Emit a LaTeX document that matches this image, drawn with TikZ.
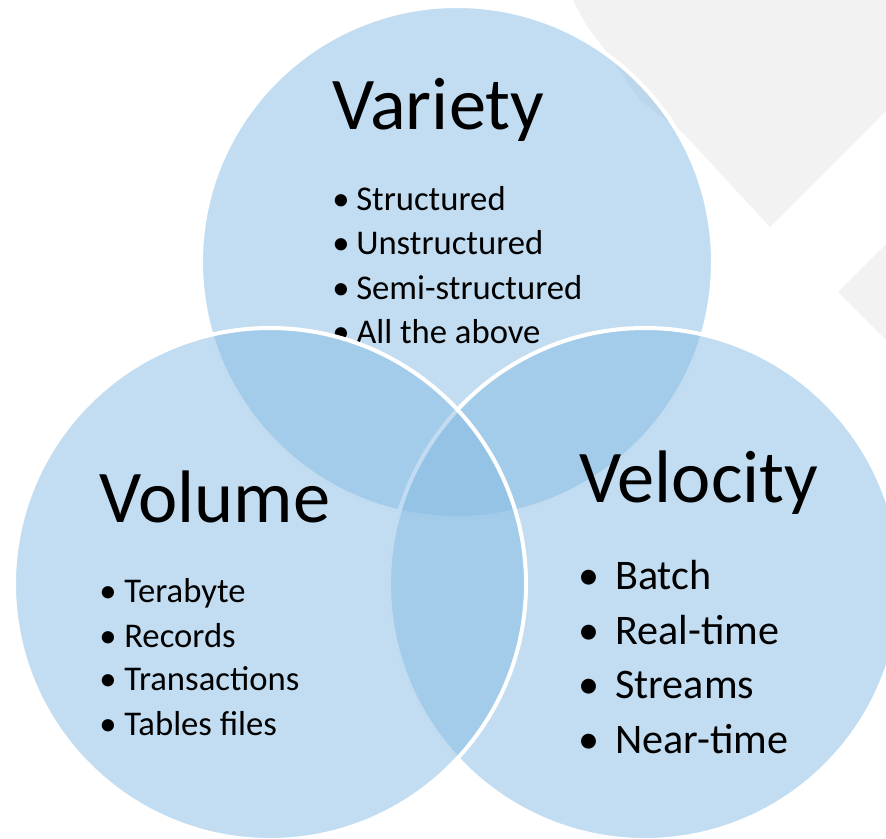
\documentclass[tikz,border=0pt]{standalone}
\usepackage{fontspec}
\setmainfont{Carlito}
\definecolor{vblue}{RGB}{133,187,227}
\definecolor{bggrey}{RGB}{242,242,242}
\newcommand\bulitem[2]{\llap{\makebox[#1][l]{\textbullet}}#2}
\begin{document}
\begin{tikzpicture}[x=0.75pt,y=-0.75pt,
  venn/.style={circle,minimum size=384pt,inner sep=0pt,fill=vblue,fill opacity=0.5,draw=white,draw opacity=1,line width=3pt},
  head/.style={anchor=base west,inner sep=0pt,font=\fontsize{55.8}{56}\selectfont},
  smallitem/.style={anchor=base west,inner sep=0pt,font=\fontsize{26}{26}\selectfont},
  bigitem/.style={anchor=base west,inner sep=0pt,font=\fontsize{31.6}{32}\selectfont}]
\useasboundingbox (0,0) rectangle (886,839);
% background grey shapes
\fill[bggrey] (573,0) .. controls (582,18) and (590,32) .. (600,43) -- (640,100) -- (683,133) -- (770,227) -- (886,111) -- (886,0) -- cycle;
\fill[bggrey] (838,292) -- (886,244) -- (886,340) -- cycle;
% top circle and its text
\node[venn] (cvar) at (457,262) {};
\node[head] (tvar) at (332,129) {Variety};
\node[smallitem] (v1) at (356,210) {\bulitem{18pt}{Structured}};
\node[smallitem] (v2) at (356,254.5) {\bulitem{18pt}{Unstructured}};
\node[smallitem] (v3) at (356,299) {\bulitem{18pt}{Semi-structured}};
\node[smallitem] (v4) at (356,343.5) {\bulitem{18pt}{All the above}};
% right and left circles
\node[venn] (cvel) at (645,584) {};
\node[venn] (cvol) at (270,584) {};
% texts
\node[head] (tvol) at (99,522) {Volume};
\node[smallitem] (o1) at (124,602) {\bulitem{18.6pt}{Terabyte}};
\node[smallitem] (o2) at (124,647) {\bulitem{18.6pt}{Records}};
\node[smallitem] (o3) at (124,690) {\bulitem{18.6pt}{Transactions}};
\node[smallitem] (o4) at (124,735) {\bulitem{18.6pt}{Tables files}};
\node[head] (tvel) at (579,502) {Velocity};
\node[bigitem] (e1) at (615,589) {\bulitem{27.5pt}{Batch}};
\node[bigitem] (e2) at (615,644) {\bulitem{27.5pt}{Real-time}};
\node[bigitem] (e3) at (615,698) {\bulitem{27.5pt}{Streams}};
\node[bigitem] (e4) at (615,753) {\bulitem{27.5pt}{Near-time}};
\end{tikzpicture}
\end{document}
